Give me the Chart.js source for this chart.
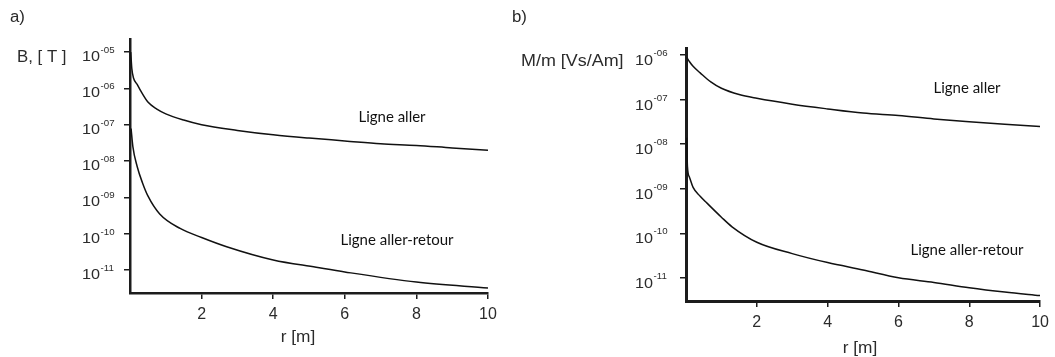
<!DOCTYPE html>
<html>
<head>
<meta charset="utf-8">
<script src="https://cdn.jsdelivr.net/npm/chart.js@4.4.1/dist/chart.umd.min.js"></script>
<style>
  html, body { margin: 0; padding: 0; background: #fff; }
  body { width: 1055px; height: 357px; position: relative; overflow: hidden; }
  canvas { position: absolute; top: 0; }
  #chartA { left: 0; }
  #chartB { left: 500px; }
</style>
</head>
<body>
<canvas id="chartA" width="520" height="357"></canvas>
<canvas id="chartB" width="555" height="357"></canvas>
<script>
// Distance axis (r in metres)
const rTicks = [2, 4, 6, 8, 10];

// a) Magnetic flux density B [T]
const bAllerR = [0.02, 0.05, 0.1, 0.2, 0.3, 0.5, 0.75, 1, 1.5, 2, 3, 4, 5, 6, 7, 8, 9, 10];
const bAllerV = [1.0e-5, 3.6e-6, 1.9e-6, 1.3e-6, 8.5e-7, 4.2e-7, 2.7e-7, 2.0e-7, 1.35e-7, 1.0e-7,
                 7.0e-8, 5.3e-8, 4.3e-8, 3.6e-8, 3.0e-8, 2.7e-8, 2.3e-8, 2.0e-8];
const bRetourR = [0.03, 0.08, 0.2, 0.35, 0.5, 0.83, 1.4, 2, 2.7, 4, 5.2, 6, 8, 10];
const bRetourV = [7.9e-8, 2.5e-8, 7.1e-9, 2.5e-9, 1.1e-9, 3.5e-10, 1.4e-10, 7.9e-11, 4.4e-11,
                  1.9e-11, 1.2e-11, 8.9e-12, 4.7e-12, 3.2e-12];
const bExpTicks = [-5, -6, -7, -8, -9, -10, -11];

// b) Mutual inductance per metre M/m [Vs/Am]
const mAllerR = [0.02, 0.1, 0.2, 0.4, 0.7, 1, 1.5, 2, 3, 4, 5, 6, 7, 8, 9, 10];
const mAllerV = [8.9e-7, 7.1e-7, 5.6e-7, 4.0e-7, 2.5e-7, 1.8e-7, 1.3e-7, 1.07e-7, 7.9e-8,
                 6.2e-8, 5.0e-8, 4.4e-8, 3.7e-8, 3.2e-8, 2.8e-8, 2.5e-8];
const mRetourR = [0.02, 0.04, 0.1, 0.2, 0.4, 0.6, 1, 1.3, 2, 3, 4, 5, 6, 7, 8, 9, 10];
const mRetourV = [1.4e-8, 3.2e-9, 1.8e-9, 1.07e-9, 6.8e-10, 4.7e-10, 2.3e-10, 1.4e-10, 6.3e-11,
                  3.5e-11, 2.2e-11, 1.5e-11, 1.0e-11, 7.9e-12, 6.0e-12, 4.8e-12, 4.0e-12];
const mExpTicks = [-6, -7, -8, -9, -10, -11];

const seriesNames = ['Ligne aller', 'Ligne aller-retour'];

const AXIS_COLOR = '#1c1c1c';
const TEXT_COLOR = '#2b2b2b';
const SANS = '"Liberation Sans", Arial, sans-serif';

function pts(rs, vs) { return rs.map((r, i) => ({ x: r, y: vs[i] })); }

function stretchedText(ctx, text, x, y, font, align, sx, color) {
  ctx.save();
  ctx.font = font;
  ctx.fillStyle = color || TEXT_COLOR;
  ctx.textBaseline = 'alphabetic';
  const w = ctx.measureText(text).width * sx;
  let x0 = x;
  if (align === 'right') x0 = x - w;
  else if (align === 'center') x0 = x - w / 2;
  ctx.translate(x0, y);
  ctx.scale(sx, 1);
  ctx.textAlign = 'left';
  ctx.fillText(text, 0, 0);
  ctx.restore();
  return w;
}

function makeChart(id, cfg) {
  const annotate = {
    id: 'annotate',
    afterDraw(chart) {
      const ctx = chart.ctx;
      const ys = chart.scales.y;
      const axisX = chart.chartArea.left;
      // power-of-ten tick labels: "10" with a raised exponent
      cfg.exps.forEach(e => {
        const py = ys.getPixelForValue(Math.pow(10, e));
        const sup = (e < 0 ? '-' : '') + String(Math.abs(e)).padStart(2, '0');
        stretchedText(ctx, '10', axisX - cfg.baseGap, py + cfg.baseDy, '15px ' + SANS, 'right', 1.08);
        stretchedText(ctx, sup, axisX - cfg.baseGap + 0.5, py + cfg.supDy, '9px ' + SANS, 'left', 1.08);
      });
      // panel letter, axis titles
      stretchedText(ctx, cfg.panel, cfg.panelX, 22, '16px ' + SANS, 'left', 1.05);
      stretchedText(ctx, cfg.yTitle, cfg.yTitleX, cfg.yTitleY, '16px ' + SANS, 'left', cfg.yTitleSx);
      stretchedText(ctx, 'r [m]', cfg.xTitleX, cfg.xTitleY, '16px ' + SANS, 'center', 1.08);
      // curve labels
      ctx.save();
      ctx.font = '15px Lato, "Open Sans", sans-serif';
      ctx.fillStyle = '#111';
      ctx.textAlign = 'center';
      ctx.textBaseline = 'middle';
      cfg.labels.forEach(l => ctx.fillText(l.text, l.x, l.y));
      ctx.restore();
    }
  };

  const lineStyle = {
    borderColor: '#111',
    borderWidth: 1.5,
    pointRadius: 0,
    fill: false,
    cubicInterpolationMode: 'monotone'
  };

  return new Chart(document.getElementById(id), {
    type: 'line',
    data: {
      datasets: [
        Object.assign({ label: seriesNames[0], data: cfg.upper }, lineStyle),
        Object.assign({ label: seriesNames[1], data: cfg.lower }, lineStyle)
      ]
    },
    options: {
      responsive: false,
      animation: false,
      devicePixelRatio: 1,
      layout: { padding: { left: 0, top: cfg.top, right: cfg.padRight, bottom: 0 } },
      plugins: { legend: { display: false }, tooltip: { enabled: false } },
      scales: {
        x: {
          type: 'linear',
          min: 0,
          max: 10,
          afterBuildTicks: s => { s.ticks = rTicks.map(v => ({ value: v })); },
          afterFit: s => { s.height = cfg.xHeight; },
          border: { display: true, color: AXIS_COLOR, width: cfg.axisWidth },
          grid: { display: true, drawOnChartArea: false, drawTicks: true, tickLength: 6,
                  color: AXIS_COLOR, lineWidth: 1.5 },
          ticks: {
            padding: 6,
            color: TEXT_COLOR,
            font: { family: SANS, size: 16 },
            maxRotation: 0,
            callback: v => String(v)
          }
        },
        y: {
          type: 'logarithmic',
          min: cfg.yMin,
          max: cfg.yMax,
          afterBuildTicks: s => { s.ticks = cfg.exps.map(e => ({ value: Math.pow(10, e) })); },
          afterFit: s => { s.width = cfg.axisLeft; },
          border: { display: true, color: AXIS_COLOR, width: cfg.axisWidth },
          grid: { display: true, drawOnChartArea: false, drawTicks: true, tickLength: 6,
                  color: AXIS_COLOR, lineWidth: 1.5 },
          ticks: { display: false }
        }
      }
    },
    plugins: [annotate]
  });
}

makeChart('chartA', {
  upper: pts(bAllerR, bAllerV),
  lower: pts(bRetourR, bRetourV),
  exps: bExpTicks,
  yMin: Math.pow(10, -11.63),
  yMax: Math.pow(10, -4.64),
  axisLeft: 130,
  top: 39,
  padRight: 32,
  xHeight: 64,
  axisWidth: 2.5,
  baseGap: 30,
  baseDy: 9,
  supDy: 1,
  panel: 'a)',
  panelX: 10,
  yTitle: 'B, [ T ]',
  yTitleX: 17,
  yTitleY: 62,
  yTitleSx: 1.05,
  xTitleX: 298,
  xTitleY: 342,
  labels: [
    { text: seriesNames[0], x: 392, y: 117 },
    { text: seriesNames[1], x: 397, y: 240 }
  ]
});

makeChart('chartB', {
  upper: pts(mAllerR, mAllerV),
  lower: pts(mRetourR, mRetourV),
  exps: mExpTicks,
  yMin: Math.pow(10, -11.52),
  yMax: Math.pow(10, -5.84),
  axisLeft: 186,
  top: 48,
  padRight: 13,
  xHeight: 56,
  axisWidth: 3,
  baseGap: 33,
  baseDy: 10,
  supDy: 1,
  panel: 'b)',
  panelX: 12,
  yTitle: 'M/m [Vs/Am]',
  yTitleX: 21,
  yTitleY: 66,
  yTitleSx: 1.12,
  xTitleX: 360,
  xTitleY: 353,
  labels: [
    { text: seriesNames[0], x: 467, y: 88 },
    { text: seriesNames[1], x: 467, y: 250 }
  ]
});
</script>
</body>
</html>
